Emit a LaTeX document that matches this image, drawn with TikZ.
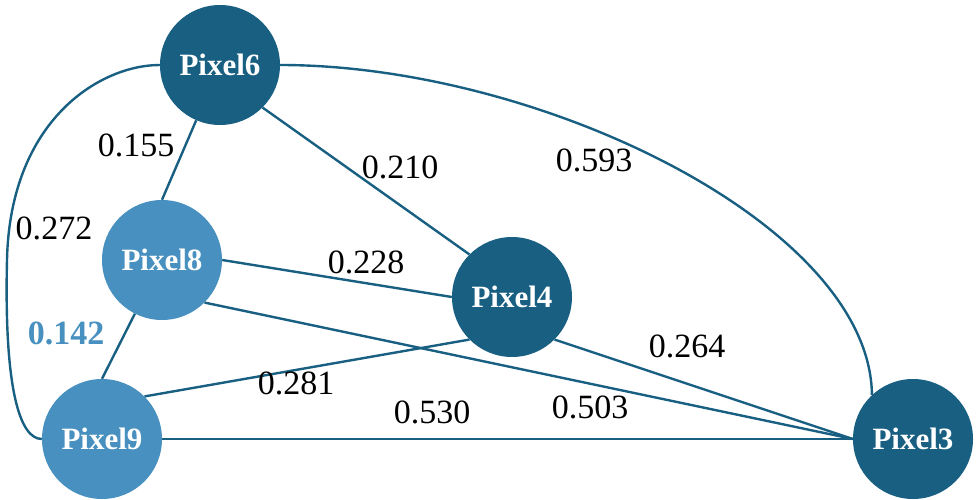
\documentclass[tikz,border=0pt]{standalone}
\usepackage{fontspec}
\setmainfont{Liberation Serif}
\definecolor{darkb}{RGB}{24,95,130}
\definecolor{lightb}{RGB}{72,144,191}
\begin{document}
\begin{tikzpicture}[x=1pt,y=-1pt,
  pix/.style={circle,minimum size=120pt,inner sep=0pt,text=white,font=\fontsize{31}{36}\selectfont\bfseries},
  dk/.style={pix,fill=darkb},
  lt/.style={pix,fill=lightb},
  edge/.style={draw=darkb,line width=2.4pt},
  wlab/.style={font=\fontsize{34}{40}\selectfont,inner sep=0pt}]
\useasboundingbox (0,0) rectangle (976,500);
\node[dk] (p6) at (220,65) {Pixel6};
\node[lt] (p8) at (162,260) {Pixel8};
\node[dk] (p4) at (512,297) {Pixel4};
\node[lt] (p9) at (102,439) {Pixel9};
\node[dk] (p3) at (913,439) {Pixel3};
\draw[edge] (p8.north) -- (p6);
\draw[edge] (p9.north) -- (p8);
\draw[edge] (p6.south east) -- (p4.north west);
\draw[edge] (p8.east) -- (p4.west);
\draw[edge] (p9.north east) -- (p4.south west);
\draw[edge] (p4.south east) -- (p3.west);
\draw[edge] (p8.south east) -- (p3.west);
\draw[edge] (p9.east) -- (p3.west);
\draw[edge] (p6.east) .. controls (540,65) and (870,225) .. (p3.133);
\draw[edge] (p6.west) .. controls (100,65) and (10,120) .. (7,260) .. controls (4,390) and (20,439) .. (p9.west);
\node[wlab] (l155) at (136,145) {0.155};
\node[wlab] (l210) at (400,167) {0.210};
\node[wlab] (l593) at (594,160) {0.593};
\node[wlab] (l272) at (54,228) {0.272};
\node[wlab,text=lightb,font=\fontsize{34}{40}\selectfont\bfseries] (l142) at (66,333) {0.142};
\node[wlab] (l228) at (366,262) {0.228};
\node[wlab] (l281) at (296,383) {0.281};
\node[wlab] (l530) at (432,412) {0.530};
\node[wlab] (l503) at (590,407) {0.503};
\node[wlab] (l264) at (687,346) {0.264};
\end{tikzpicture}
\end{document}
